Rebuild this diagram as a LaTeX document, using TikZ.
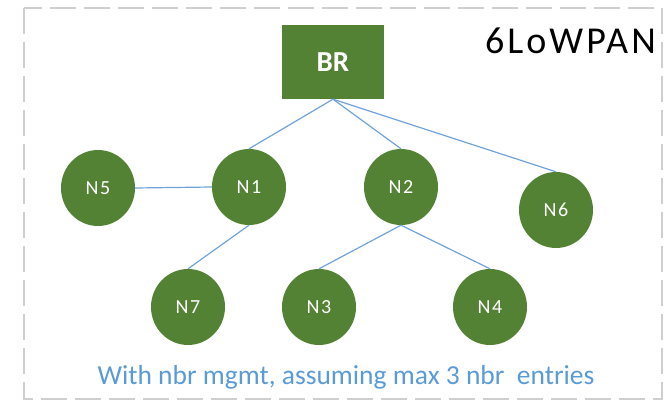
\documentclass[tikz,border=0pt]{standalone}
\usepackage{fontspec}
\setmainfont{Carlito}
\newfontfamily\spacedfont[LetterSpace=8]{Carlito}
\usetikzlibrary{shapes.geometric}
\definecolor{nodegreen}{HTML}{548235}
\definecolor{linkblue}{HTML}{6FA3DA}
\definecolor{framegray}{HTML}{CFCFCF}
\definecolor{notetext}{HTML}{5B9BD5}
\begin{document}
\begin{tikzpicture}[x=1pt,y=-1pt,
  sensor/.style={ellipse, fill=nodegreen, minimum width=74pt, minimum height=76pt, inner sep=0pt, text=white, font=\spacedfont\fontsize{20}{22}\selectfont},
  router/.style={rectangle, fill=nodegreen, minimum width=102pt, minimum height=74pt, inner sep=0pt, text=white, font=\fontsize{29}{32}\selectfont\bfseries},
  link/.style={draw=linkblue, line width=1.2pt},
  frame/.style={draw=framegray, line width=1.4pt, dash pattern=on 26pt off 8pt}]
\useasboundingbox (0,0) rectangle (664,401);
\draw[frame] (24,8) rectangle (662,399);
\node[router] (BR) at (333,62) {BR};
\node[sensor] (N5) at (98,188) {N5};
\node[sensor] (N1) at (249,187) {N1};
\node[sensor] (N2) at (401,187) {N2};
\node[sensor] (N6) at (556,210) {N6};
\node[sensor] (N7) at (188,307) {N7};
\node[sensor] (N3) at (319,307) {N3};
\node[sensor] (N4) at (490,307) {N4};
\node[anchor=east, font=\spacedfont\fontsize{38}{40}\selectfont, inner sep=0pt] (title) at (656,41) {6LoWPAN};
\node[anchor=base, text=notetext, font=\fontsize{27.5}{30}\selectfont, inner sep=0pt] (note) at (346,384) {With nbr mgmt, assuming max 3 nbr\ \ entries};
\draw[link] (BR.south) -- (N1.north);
\draw[link] (BR.south) -- (N2.north);
\draw[link] (BR.south) -- (N6.north);
\draw[link] (N5.east) -- (N1.west);
\draw[link] (N1.south) -- (N7.north);
\draw[link] (N2.south) -- (N3.north);
\draw[link] (N2.south) -- (N4.north);
\end{tikzpicture}
\end{document}
